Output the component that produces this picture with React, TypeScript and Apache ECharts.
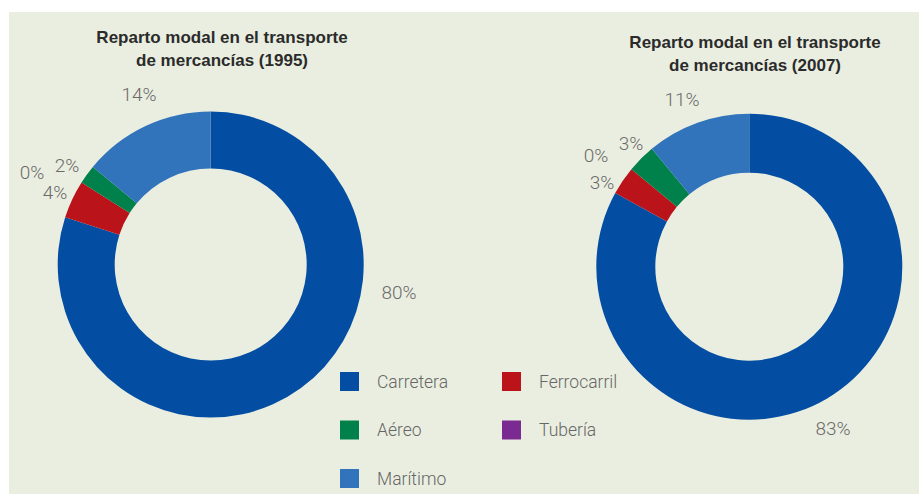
import React, { useEffect, useRef } from "react";
import * as echarts from "echarts";

const categories = ["Carretera", "Ferrocarril", "Tubería", "Aéreo", "Marítimo"];
const values1995 = [80, 4, 0, 2, 14];
const values2007 = [83, 3, 0, 3, 11];
const colors = ["#034EA2", "#BA141A", "#7A2A90", "#00814C", "#3174BB"];

const title1995 = "Reparto modal en el transporte\nde mercancías (1995)";
const title2007 = "Reparto modal en el transporte\nde mercancías (2007)";

// label anchor positions (layout only)
const labelPos1995 = [[399, 292], [55, 192], [32, 172], [67, 165], [139, 94]];
const labelPos2007 = [[833, 428], [602, 182], [596, 155], [631, 143], [682, 99]];

const legendCol1 = ["Carretera", "Aéreo", "Marítimo"];
const legendCol2 = ["Ferrocarril", "Tubería"];

export default function App() {
  const ref = useRef<HTMLDivElement>(null);
  useEffect(() => {
    if (!ref.current) return;
    const chart = echarts.init(ref.current, undefined, { renderer: "svg" });
    const mkSeries = (name: string, vals: number[], center: any, radius: any, pos: number[][]) => ({
      type: "pie",
      name,
      center,
      radius,
      startAngle: 90,
      clockwise: true,
      avoidLabelOverlap: false,
      silent: true,
      data: categories.map((c, i) => ({ name: c, value: vals[i], itemStyle: { color: colors[i] } })),
      label: {
        show: true,
        formatter: "{c}%",
        color: "#6a6a6a",
        fontSize: 19,
        fontFamily: "Roboto",
        fontWeight: 300,
      },
      labelLine: { show: false },
      labelLayout: (p: any) => ({
        x: pos[p.dataIndex][0],
        y: pos[p.dataIndex][1],
        align: "center",
        verticalAlign: "middle",
      }),
    });
    const legendBase = {
      orient: "vertical",
      icon: "rect",
      itemWidth: 19,
      itemHeight: 19,
      itemGap: 29.5,
      padding: 0,
      height: 140,
      selectedMode: false,
      textStyle: {
        color: "#666666",
        fontSize: 17.5,
        fontFamily: "Roboto",
        fontWeight: 300,
        padding: [0, 0, 0, 13],
      },
    };
    const titleStyle = { fontFamily: "Liberation Sans", fontSize: 17, fontWeight: "bold", color: "#2b2b2b", lineHeight: 23 };
    chart.setOption({
      animation: false,
      backgroundColor: "#ffffff",
      graphic: [
        {
          type: "rect",
          z: -10,
          shape: { x: 9, y: 12, width: 910, height: 482 },
          style: { fill: "#EAEEE0" },
        },
      ],
      title: [
        { text: title1995, left: 217, top: 20.5, textAlign: "center", textStyle: titleStyle },
        { text: title2007, left: 750, top: 26, textAlign: "center", textStyle: titleStyle },
      ],
      legend: [
        { ...legendBase, left: 340, top: 372, data: legendCol1 },
        { ...legendBase, left: 502, top: 372, data: legendCol2 },
      ],
      series: [
        mkSeries("1995", values1995, [210.7, 264.5], [96, 153], labelPos1995),
        mkSeries("2007", values2007, [749.3, 266.7], [94, 153], labelPos2007),
      ],
    });
    return () => chart.dispose();
  }, []);
  return (
    <div style={{ position: "absolute", left: 0, top: 0, width: 919, height: 494 }}>
      <div ref={ref} style={{ width: 919, height: 494 }} />
    </div>
  );
}
